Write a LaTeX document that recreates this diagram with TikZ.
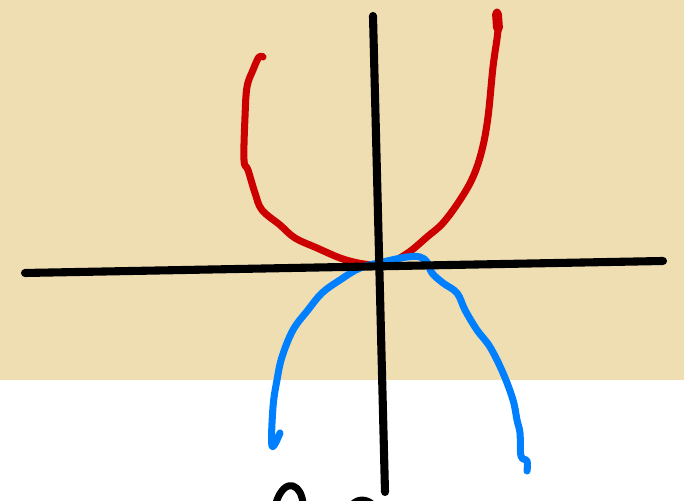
\documentclass[tikz,border=0pt]{standalone}
\usetikzlibrary{calc}
\definecolor{mybeige}{RGB}{238,222,177}
\colorlet{myred}{red!80!black}
\definecolor{myblue}{RGB}{0,128,255}
\tikzset{stroke/.style={line width=2pt, line cap=round, line join=round}}

\begin{document}
\begin{tikzpicture}[x=0.01cm, y=-0.01cm]

    \def\W{684};
    \def\H{501};
    \def\band{380};
    \useasboundingbox (0, 0) rectangle (\W, \H);
    \clip (0, 0) rectangle (\W, \H);
    \fill[mybeige] (0, 0) rectangle (\W, \band);
    \fill[white] (0, \band) rectangle (\W, \H);

    % axes
    \coordinate (L) at (25, 273);
    \coordinate (R) at (663, 261);
    \coordinate (T) at (373, 16);
    \coordinate (B) at (385, 492);

    % red branches
    \draw[stroke, myred] plot[smooth, tension=0.6] coordinates {(263, 57) (259, 57) (253, 70) (247, 87) (245, 117) (244, 160) (248, 170) (255, 193) (262, 210) (280, 225) (295, 238) (317, 248) (340, 258) (358, 263) (372, 265)};
    \draw[stroke, myred] plot[smooth, tension=0.6] coordinates {(497, 12) (498, 30) (493, 67) (488, 117) (482, 150) (473, 177) (460, 200) (443, 223) (427, 237) (412, 250) (400, 258)};
    \draw[stroke, myred, line width=2.8pt] (497, 14) -- (498, 28);

    % blue branches
    \draw[stroke, myblue] plot[smooth, tension=0.6] coordinates {(280, 433) (272, 446) (273, 407) (277, 380) (282, 357) (293, 330) (308, 310) (322, 293) (340, 280) (360, 268) (383, 262) (407, 257) (420, 257) (427, 262) (432, 273) (443, 283) (457, 293) (465, 310) (477, 330) (490, 347) (503, 373) (513, 400) (517, 420) (520, 433) (521, 456) (527, 461) (527, 471)};

    \draw[stroke, black, line width=2.3pt] (L) -- (R);
    \draw[stroke, black, line width=2.3pt] (T) -- (B);

    % cut-off strokes at the bottom
    \draw[stroke, black] (276, 503) .. controls (280, 490) and (287, 484) .. (293, 486) .. controls (299, 488) and (302, 495) .. (303, 503);
    \draw[stroke, black] (352, 505) .. controls (357, 499) and (366, 498) .. (373, 505);

\end{tikzpicture}
\end{document}
